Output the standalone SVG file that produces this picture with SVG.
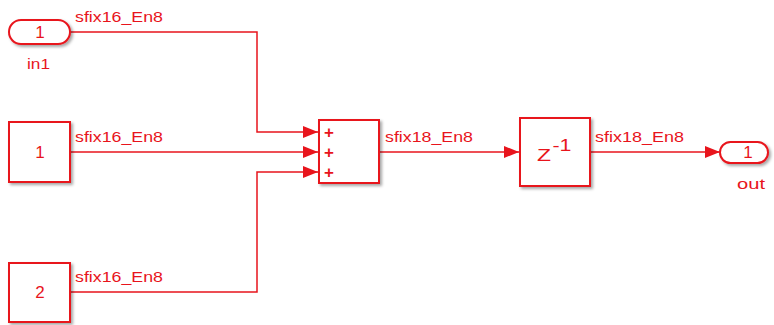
<svg xmlns="http://www.w3.org/2000/svg" width="774" height="325" viewBox="0 0 774 325">
<defs>
<filter id="sh" x="-20%" y="-20%" width="150%" height="150%">
<feDropShadow dx="2" dy="2" stdDeviation="1.5" flood-color="#000" flood-opacity="0.35"/>
</filter>
<marker id="arr" markerWidth="16" markerHeight="12" refX="15" refY="6" orient="auto" markerUnits="userSpaceOnUse">
<path d="M0,0 L15,6 L0,12 Z" fill="#e8141c"/>
</marker>
<style>
.blk{fill:#fff;stroke:#e8141c;stroke-width:2;filter:url(#sh)}
.ln{fill:none;stroke:#e8141c;stroke-width:1.5;marker-end:url(#arr)}
.lbl{font-family:"Liberation Sans",Arial,sans-serif;font-size:14px;fill:#e8141c}
.bt{font-family:"Liberation Sans",Arial,sans-serif;font-size:17px;fill:#e8141c;text-anchor:middle}
.pl{font-family:"Liberation Sans",Arial,sans-serif;font-size:17px;font-weight:bold;fill:#e8141c;text-anchor:middle}
</style>
</defs>
<rect width="774" height="325" fill="#fff"/>
<g id="connectors">
<path class="ln" d="M70,32 H257 V132 H318"/>
<path class="ln" d="M70,152 H318"/>
<path class="ln" d="M70,292 H257 V172 H318"/>
<path class="ln" d="M379,152 H519"/>
<path class="ln" d="M590,152 H720"/>
<text class="lbl" x="75" y="22" textLength="88" lengthAdjust="spacingAndGlyphs">sfix16_En8</text>
<text class="lbl" x="75" y="142" textLength="88" lengthAdjust="spacingAndGlyphs">sfix16_En8</text>
<text class="lbl" x="75" y="282" textLength="88" lengthAdjust="spacingAndGlyphs">sfix16_En8</text>
<text class="lbl" x="385" y="142" textLength="88" lengthAdjust="spacingAndGlyphs">sfix18_En8</text>
<text class="lbl" x="595" y="142" textLength="89" lengthAdjust="spacingAndGlyphs">sfix18_En8</text>
</g>
<g id="in1">
<rect class="blk" x="9" y="20" width="61" height="24" rx="12" ry="12"/>
<text class="bt" x="40" y="38" font-size="17">1</text>
<text class="lbl" x="27" y="69" font-size="17" textLength="23" lengthAdjust="spacingAndGlyphs">in1</text>
</g>
<g id="const1">
<rect class="blk" x="9" y="122" width="61" height="60"/>
<text class="bt" x="40" y="158">1</text>
</g>
<g id="const2">
<rect class="blk" x="9" y="263" width="61" height="59"/>
<text class="bt" x="40" y="298">2</text>
</g>
<g id="sum">
<rect class="blk" x="319" y="120" width="60" height="63"/>
<text class="pl" x="329" y="138">+</text>
<text class="pl" x="329" y="158">+</text>
<text class="pl" x="329" y="178">+</text>
</g>
<g id="delay">
<rect class="blk" x="520" y="118" width="70" height="68"/>
<text class="bt" x="544" y="161" font-size="20" textLength="14" lengthAdjust="spacingAndGlyphs">Z</text>
<text class="bt" x="562" y="151" font-size="15" textLength="19" lengthAdjust="spacingAndGlyphs">-1</text>
</g>
<g id="out">
<rect class="blk" x="720" y="142" width="48" height="21" rx="10.5" ry="10.5"/>
<text class="bt" x="748" y="158" font-size="17">1</text>
<text class="lbl" x="737" y="189" font-size="17" textLength="28" lengthAdjust="spacingAndGlyphs">out</text>
</g>
</svg>
